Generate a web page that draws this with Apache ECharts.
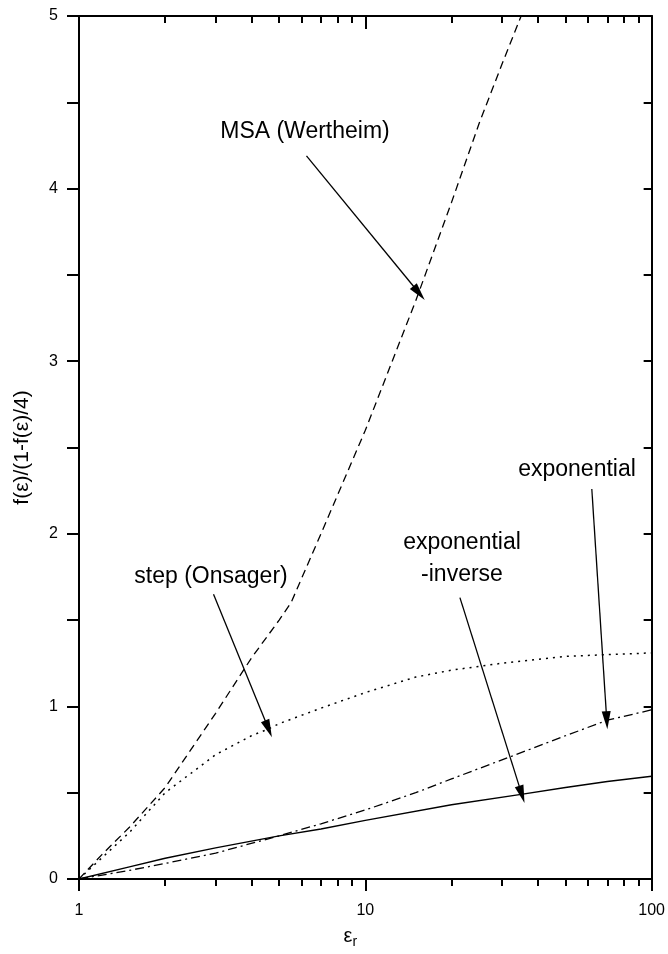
<!DOCTYPE html>
<html>
<head>
<meta charset="utf-8">
<script src="https://cdn.jsdelivr.net/npm/echarts@6/dist/echarts.min.js"></script>
<style>
  html, body { margin: 0; padding: 0; background: #fff; }
  #chart { width: 668px; height: 954px; }
</style>
</head>
<body>
<div id="chart"></div>
<script>
// values (x = eps_r, log axis)
const msaX = [1, 1.2, 1.5, 2, 3, 4, 5, 5.5, 7, 10, 15, 20, 25, 30, 35, 40];
const msaY = [0, 0.14, 0.3, 0.53, 0.96, 1.28, 1.5, 1.6, 2.0, 2.6, 3.35, 3.92, 4.38, 4.72, 5.0, 5.3];
const stepX = [1, 1.5, 2, 3, 4, 4.6, 5, 7, 10, 15, 20, 30, 50, 70, 100];
const stepY = [0, 0.27, 0.5, 0.72, 0.83, 0.87, 0.9, 0.99, 1.08, 1.17, 1.21, 1.25, 1.29, 1.30, 1.31];
const expX = [1, 1.5, 2, 3, 5, 7, 10, 15, 20, 30, 50, 70, 100];
const expY = [0, 0.05, 0.09, 0.15, 0.25, 0.32, 0.4, 0.5, 0.58, 0.69, 0.83, 0.92, 0.98];
const invX = [1, 1.5, 2, 3, 5, 7, 10, 20, 35, 50, 70, 100];
const invY = [0, 0.07, 0.12, 0.18, 0.25, 0.29, 0.34, 0.43, 0.49, 0.53, 0.565, 0.595];

const xMajor = [1, 10, 100];
const xMinor = [2, 3, 4, 5, 6, 7, 8, 9, 20, 30, 40, 50, 60, 70, 80, 90];
const yTicks = [0, 0.5, 1, 1.5, 2, 2.5, 3, 3.5, 4, 4.5, 5];
const yLabels = [0, 1, 2, 3, 4, 5];

// arrows: [from, to] in data coords
const arrows = [
  [[6.23, 4.19], [15.4, 3.395]],
  [[2.95, 1.65], [4.59, 0.87]],
  [[61.8, 2.26], [69.7, 0.92]],
  [[21.4, 1.63], [35.2, 0.49]]
];

const pair = (xs, ys) => xs.map((x, i) => [x, ys[i]]);
const FONT = 'Liberation Sans, Arial, sans-serif';

const chart = echarts.init(document.getElementById('chart'), null, { renderer: 'canvas' });

function xAx(pos, len, inside, values, labels) {
  return {
    type: 'log', logBase: 10, min: 1, max: 100, position: pos,
    axisLine: { show: true, onZero: false, lineStyle: { color: '#000', width: 2 } },
    axisTick: { show: true, inside: inside, length: len, customValues: values, lineStyle: { color: '#000', width: 2 } },
    axisLabel: labels ? { show: true, customValues: xMajor, color: '#000', fontSize: 16, fontFamily: FONT, margin: 24, formatter: v => String(v) } : { show: false },
    splitLine: { show: false }
  };
}

const line = (data, type, width) => ({
  type: 'line', data: data, showSymbol: false, symbol: 'none', silent: true,
  lineStyle: { color: '#000', width: width, type: type }, z: 3
});

const option = {
  animation: false,
  grid: { left: 79, top: 16, width: 574, height: 866 },
  xAxis: [
    Object.assign(xAx('bottom', 12, false, xMajor, true), {
      name: 'ε{s|r}', nameLocation: 'middle', nameGap: 44,
      nameTextStyle: { color: '#000', fontSize: 20, fontFamily: FONT, padding: [0, 30, 0, 0],
        rich: { s: { fontSize: 14, fontFamily: FONT, color: '#000', verticalAlign: 'bottom', padding: [12, 0, 0, 0] } } }
    }),
    xAx('bottom', 7, false, xMinor, false),
    xAx('top', 13, true, xMajor, false),
    xAx('top', 7, true, xMinor, false)
  ],
  yAxis: [
    {
      type: 'value', min: 0, max: 5, interval: 0.5, position: 'left',
      name: 'f(ε)/(1-f(ε)/4)', nameLocation: 'middle', nameGap: 46,
      nameTextStyle: { color: '#000', fontSize: 21, fontFamily: FONT },
      axisLine: { show: true, onZero: false, lineStyle: { color: '#000', width: 2 } },
      axisTick: { show: true, inside: false, length: 12, customValues: yTicks, lineStyle: { color: '#000', width: 2 } },
      axisLabel: { show: true, customValues: yLabels, color: '#000', fontSize: 16, fontFamily: FONT, margin: 21 },
      splitLine: { show: false }
    },
    {
      type: 'value', min: 0, max: 5, interval: 0.5, position: 'right',
      axisLine: { show: true, onZero: false, lineStyle: { color: '#000', width: 2 } },
      axisTick: { show: true, inside: true, length: 8, customValues: yTicks, lineStyle: { color: '#000', width: 2 } },
      axisLabel: { show: false },
      splitLine: { show: false }
    }
  ],
  series: [
    line(pair(msaX, msaY), [8, 5], 1.3),
    line(pair(stepX, stepY), [2, 5], 1.5),
    line(pair(expX, expY), [9, 4, 2, 4], 1.3),
    Object.assign(line(pair(invX, invY), 'solid', 1.4), {
      markLine: {
        silent: true, animation: false,
        symbol: ['none', 'triangle'], symbolSize: [9, 18],
        label: { show: false },
        lineStyle: { color: '#000', width: 1.3, type: 'solid' },
        itemStyle: { color: '#000' },
        data: arrows.map(a => [{ coord: a[0] }, { coord: a[1] }])
      }
    })
  ],
  graphic: [
    { type: 'text', x: 305, y: 132, style: { text: 'MSA (Wertheim)', font: '23px ' + FONT, fill: '#000', align: 'center', verticalAlign: 'middle' } },
    { type: 'text', x: 211, y: 577, style: { text: 'step (Onsager)', font: '23px ' + FONT, fill: '#000', align: 'center', verticalAlign: 'middle' } },
    { type: 'text', x: 577, y: 470, style: { text: 'exponential', font: '23px ' + FONT, fill: '#000', align: 'center', verticalAlign: 'middle' } },
    { type: 'text', x: 462, y: 559, style: { text: 'exponential\n-inverse', font: '23px ' + FONT, lineHeight: 32, fill: '#000', align: 'center', verticalAlign: 'middle' } }
  ]
};

chart.setOption(option);
</script>
</body>
</html>
